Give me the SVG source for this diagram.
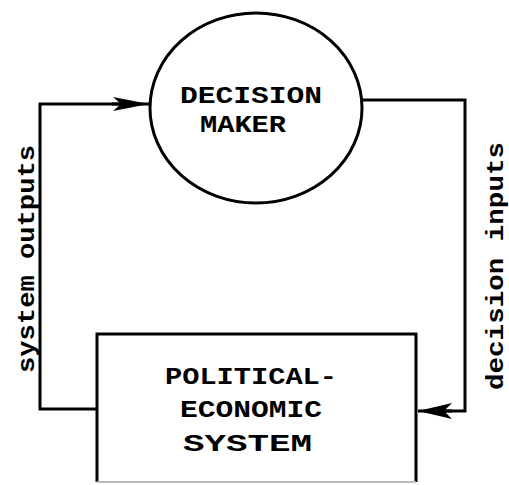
<svg xmlns="http://www.w3.org/2000/svg" width="509" height="485" viewBox="0 0 509 485">
<style>
.ln{fill:none;stroke:#000;stroke-width:3}
.tx{font-family:"Liberation Mono","Courier New",monospace;font-weight:bold;fill:#000}
.lb{font-size:24px}
.sd{font-size:24px}
</style>
<rect width="509" height="485" fill="#fff"/>
<g id="connectors">
<polyline class="ln" points="97,409 40,409 40,104 124,104"/>
<line class="ln" x1="112" y1="104" x2="149" y2="104"/>
<path d="M113,97 L149,104 L113,111 L121,104 Z" fill="#000"/>
<polyline class="ln" points="362,100 465,100 465,411 440,411"/>
<line class="ln" x1="452" y1="411" x2="418" y2="411"/>
<path d="M452,403 L418,411 L452,419 L444,411 Z" fill="#000"/>
<text class="tx sd" transform="translate(34,373) rotate(-90)" textLength="228" lengthAdjust="spacingAndGlyphs">system outputs</text>
<text class="tx sd" transform="translate(503,390) rotate(-90)" textLength="248" lengthAdjust="spacingAndGlyphs">decision inputs</text>
</g>
<g id="decision-maker">
<ellipse class="ln" cx="256" cy="108" rx="106" ry="95"/>
<text class="tx lb" x="180" y="103" textLength="142" lengthAdjust="spacingAndGlyphs">DECISION</text>
<text class="tx lb" x="200" y="132" textLength="86" lengthAdjust="spacingAndGlyphs">MAKER</text>
</g>
<g id="political-economic-system">
<path class="ln" d="M97,482 L97,334 L416,334 L416,482"/>
<line x1="97" y1="482" x2="416" y2="482" stroke="#bbb" stroke-width="2"/>
<text class="tx lb" x="165" y="384" textLength="172" lengthAdjust="spacingAndGlyphs">POLITICAL-</text>
<text class="tx lb" x="180" y="417" textLength="142" lengthAdjust="spacingAndGlyphs">ECONOMIC</text>
<text class="tx lb" x="183" y="451" textLength="129" lengthAdjust="spacingAndGlyphs">SYSTEM</text>
</g>
</svg>
